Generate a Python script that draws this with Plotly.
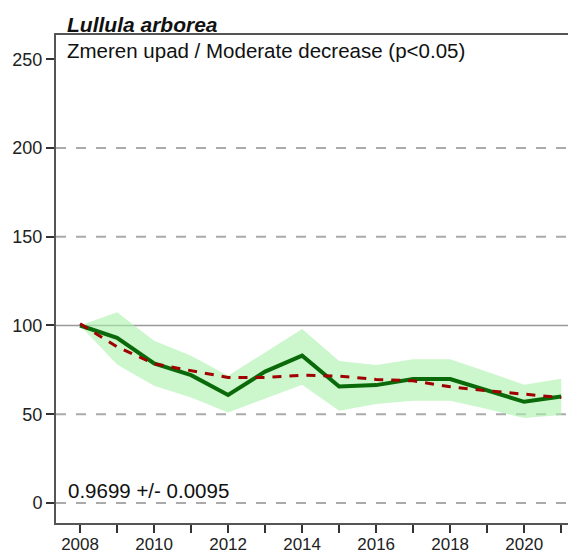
import plotly.graph_objects as go

years = list(range(2008, 2022))
index = [100, 93, 78.6, 72, 60.8, 74, 83, 65.6, 66.4, 69.8, 69.8, 63.2, 57, 60]
upper = [100, 107.4, 91.4, 83, 71.7, 85, 98, 80, 77.7, 81, 81, 74, 66.6, 70]
lower = [100, 78, 66, 59.4, 51, 58.7, 66.6, 52, 55.7, 57.6, 57.6, 52.9, 47.8, 49.5]
trend = [101, 88, 78.4, 74.5, 70.7, 70.7, 72, 71.5, 69.6, 68.8, 65.5, 63.2, 61.3, 59.4]

dashed_grid = [0, 50, 150, 200]
baseline = 100
ytick_vals = [0, 50, 100, 150, 200, 250]
xtick_text = [str(y) if y % 2 == 0 else "" for y in years]

font = "Liberation Sans, Arial, sans-serif"

fig = go.Figure()

# confidence band
fig.add_trace(go.Scatter(x=years, y=upper, mode="lines", line=dict(width=0),
                         hoverinfo="skip", showlegend=False))
fig.add_trace(go.Scatter(x=years, y=lower, mode="lines", line=dict(width=0),
                         fill="tonexty", fillcolor="rgba(170,240,170,0.6)",
                         hoverinfo="skip", showlegend=False))

fig.add_trace(go.Scatter(x=years, y=index, mode="lines",
                         line=dict(color="#0a6a0a", width=4), showlegend=False))
fig.add_trace(go.Scatter(x=years, y=trend, mode="lines",
                         line=dict(color="#a00000", width=3, dash="9px,8px"),
                         showlegend=False))

shapes = []
for g in dashed_grid:
    shapes.append(dict(type="line", xref="paper", x0=0, x1=1, yref="y", y0=g, y1=g,
                       line=dict(color="#aaaaaa", width=2, dash="10px,10px"), layer="below"))
shapes.append(dict(type="line", xref="paper", x0=0, x1=1, yref="y", y0=baseline, y1=baseline,
                   line=dict(color="#999999", width=1.5), layer="below"))

# page body adds an 8px margin, so the figure is 8px smaller than the window
fig.update_layout(
    width=568, height=547,
    margin=dict(l=48, r=0, t=27, b=32),
    paper_bgcolor="white", plot_bgcolor="white",
    font=dict(family=font, size=18, color="#222222"),
    shapes=shapes,
    xaxis=dict(range=[2007.35, 2021.4], tickvals=years, ticktext=xtick_text,
               showgrid=False, zeroline=False, showline=True, linecolor="#555555",
               linewidth=2, mirror=True, ticks="outside", ticklen=8, tickwidth=2,
               tickcolor="#333333", tickfont=dict(size=17), automargin=False,
               ticklabelstandoff=-3),
    yaxis=dict(range=[-11.3, 263.7], tickvals=ytick_vals, showgrid=False,
               zeroline=False, showline=True, linecolor="#555555", linewidth=2,
               ticks="outside", ticklen=8, tickwidth=2, tickcolor="#333333",
               tickfont=dict(size=18), automargin=False),
    annotations=[
        dict(text="<b><i>Lullula arborea</i></b>", xref="paper", yref="paper",
             x=0.017, y=1.021, xanchor="left", yanchor="middle", showarrow=False,
             font=dict(size=21, color="#111111")),
        dict(text="Zmeren upad / Moderate decrease (p<0.05)", xref="paper", yref="paper",
             x=0.017, y=0.969, xanchor="left", yanchor="middle", showarrow=False,
             font=dict(size=20.5, color="#111111")),
        dict(text="0.9699 +/- 0.0095", xref="paper", yref="paper",
             x=0.019, y=0.0656, xanchor="left", yanchor="middle", showarrow=False,
             font=dict(size=20.5, color="#111111")),
    ],
)

fig.write_html("out.html")
